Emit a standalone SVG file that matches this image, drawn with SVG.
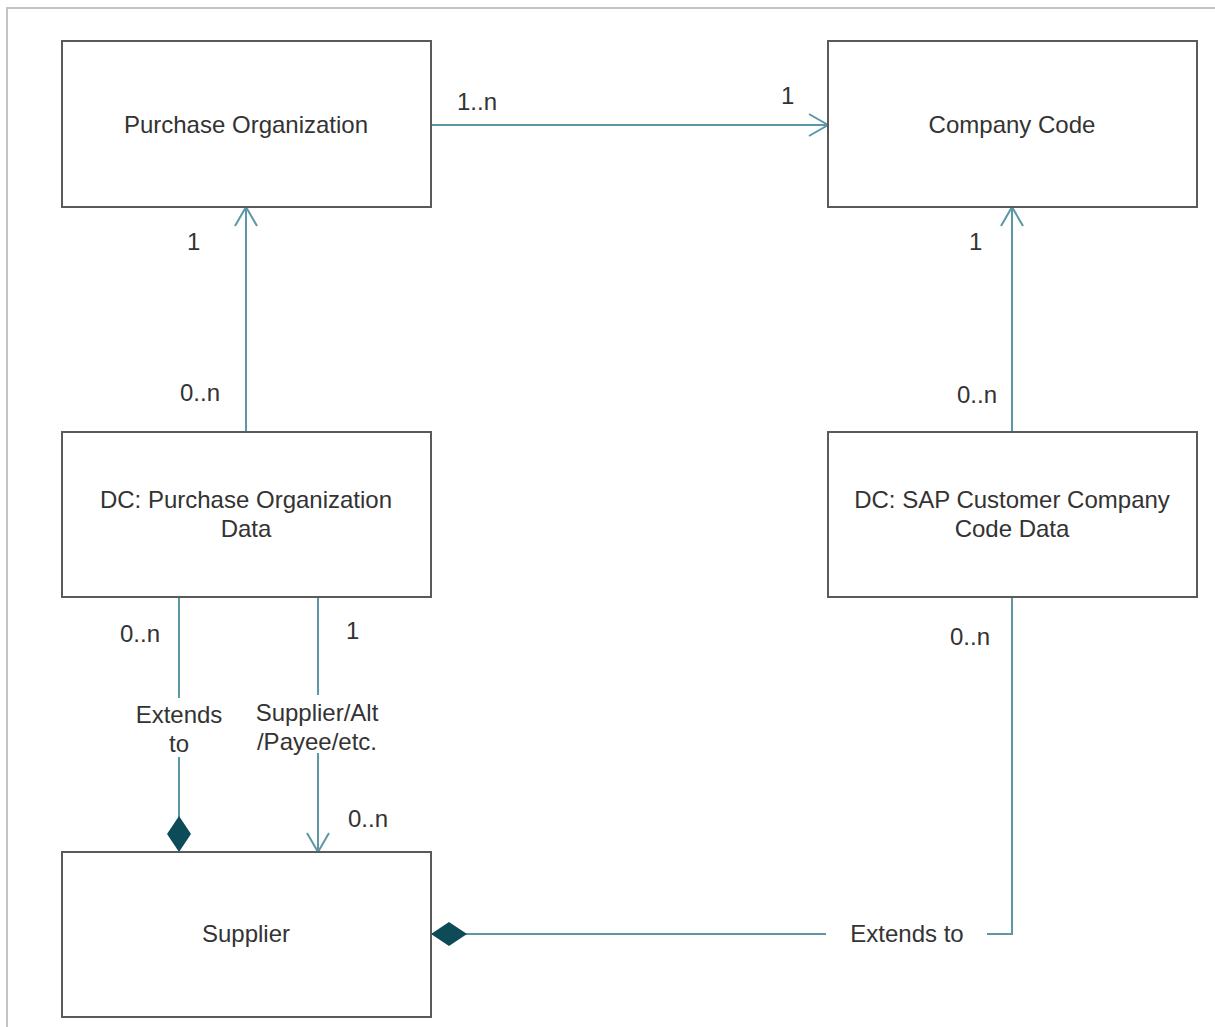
<svg xmlns="http://www.w3.org/2000/svg" width="1215" height="1027" viewBox="0 0 1215 1027">
  <style>
    .box { fill: #ffffff; stroke: #5a5a5a; stroke-width: 2; }
    .t { font-family: "Liberation Sans", Arial, sans-serif; font-size: 24px; fill: #333333; }
    .c { text-anchor: middle; }
    .conn { fill: none; stroke: #5b97a6; stroke-width: 2; }
    .frame { fill: none; stroke: #c4c4c4; stroke-width: 2; }
  </style>
  <defs>
    <marker id="arrow" viewBox="-22 -13 24 26" refX="0" refY="0" markerWidth="24" markerHeight="26" markerUnits="userSpaceOnUse" orient="auto">
      <path d="M-19,-11 L0,0 L-19,11" fill="none" stroke="#5b97a6" stroke-width="2"/>
    </marker>
    <marker id="diamond" viewBox="-1 -13 38 26" refX="0" refY="0" markerWidth="38" markerHeight="26" markerUnits="userSpaceOnUse" orient="auto">
      <path d="M0,0 L18,-12 L36,0 L18,12 Z" fill="#0e4b59"/>
    </marker>
  </defs>
  <rect width="1215" height="1027" fill="#ffffff"/>
  <path class="frame" d="M7,1027 L7,8 L1215,8"/>

  <g id="connectors">
    <path class="conn" d="M431,125 L828,125" marker-end="url(#arrow)"/>
    <path class="conn" d="M246,432 L246,207" marker-end="url(#arrow)"/>
    <path class="conn" d="M1012,432 L1012,207" marker-end="url(#arrow)"/>
    <path class="conn" d="M179,852 L179,757 M179,698 L179,597" marker-start="url(#diamond)"/>
    <path class="conn" d="M318,597 L318,695"/>
    <path class="conn" d="M318,753 L318,852" marker-end="url(#arrow)"/>
    <path class="conn" d="M431,934 L826,934 M987,934 L1012,934 L1012,597" marker-start="url(#diamond)"/>

    <text class="t" x="457" y="110">1..n</text>
    <text class="t" x="781" y="104">1</text>
    <text class="t" x="187" y="250">1</text>
    <text class="t" x="180" y="401">0..n</text>
    <text class="t" x="969" y="250">1</text>
    <text class="t" x="957" y="403">0..n</text>
    <text class="t" x="120" y="642">0..n</text>
    <text class="t" x="346" y="639">1</text>
    <text class="t" x="348" y="827">0..n</text>
    <text class="t" x="950" y="645">0..n</text>
    <text class="t c" x="179" y="723">Extends</text>
    <text class="t c" x="179" y="752">to</text>
    <text class="t c" x="317" y="721">Supplier/Alt</text>
    <text class="t c" x="317" y="750">/Payee/etc.</text>
    <text class="t c" x="907" y="942">Extends to</text>
  </g>

  <g id="purchase-organization">
    <rect class="box" x="62" y="41" width="369" height="166"/>
    <text class="t c" x="246" y="133">Purchase Organization</text>
  </g>
  <g id="company-code">
    <rect class="box" x="828" y="41" width="369" height="166"/>
    <text class="t c" x="1012" y="133">Company Code</text>
  </g>
  <g id="dc-purchase-organization-data">
    <rect class="box" x="62" y="432" width="369" height="165"/>
    <text class="t c" x="246" y="508">DC: Purchase Organization</text>
    <text class="t c" x="246" y="537">Data</text>
  </g>
  <g id="dc-sap-customer-company-code-data">
    <rect class="box" x="828" y="432" width="369" height="165"/>
    <text class="t c" x="1012" y="508">DC: SAP Customer Company</text>
    <text class="t c" x="1012" y="537">Code Data</text>
  </g>
  <g id="supplier">
    <rect class="box" x="62" y="852" width="369" height="165"/>
    <text class="t c" x="246" y="942">Supplier</text>
  </g>
</svg>
